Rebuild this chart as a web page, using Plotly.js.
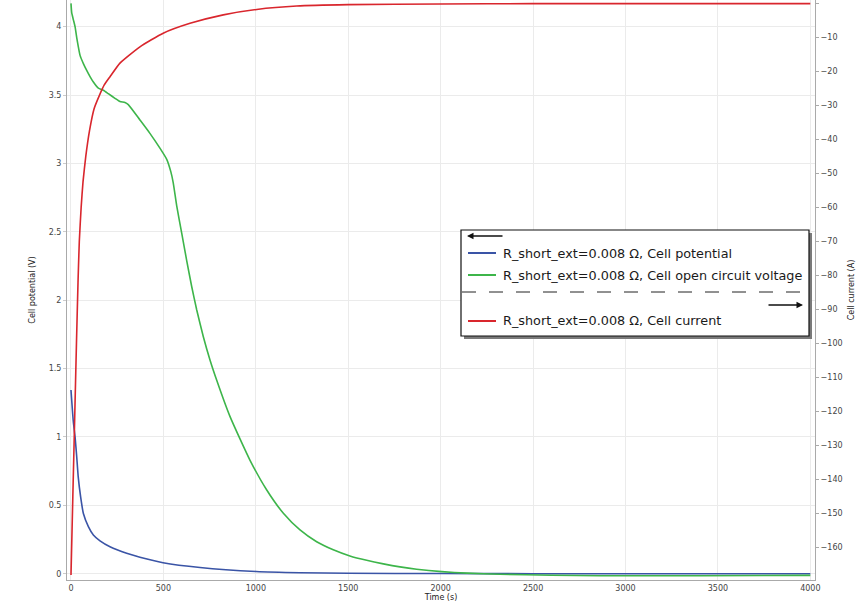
<!DOCTYPE html>
<html>
<head>
<meta charset="utf-8">
<script src="https://cdn.plot.ly/plotly-3.0.1.min.js"></script>
<style>html,body{margin:0;padding:0;background:#fff;}#chart{width:868px;height:609px;}</style>
</head>
<body>
<div id="chart"></div>
<script>
// Cell potential (V)
const tPot = [0, 12, 22, 31, 39, 52, 67, 94, 121, 157, 211, 301, 373, 498, 698, 1001, 1239, 1500, 2000, 2500, 3000, 3500, 4000];
const vPot = [1.343, 1.12, 1.0, 0.855, 0.71, 0.563, 0.44, 0.344, 0.283, 0.24, 0.197, 0.149, 0.12, 0.08, 0.045, 0.016, 0.007, 0.003, 0.001, 0.0, 0.0, 0.0, 0.0];

// Cell open circuit voltage (V)
const tOcv = [0, 4, 13, 22, 31, 40, 49, 67, 85, 103, 121, 148, 175, 202, 238, 265, 292, 310, 373, 427, 482, 518, 540, 553, 572, 599, 626, 653, 680, 716, 752, 788, 860, 968, 1059, 1149, 1239, 1329, 1419, 1509, 1600, 1690, 1780, 1870, 2006, 2141, 2321, 2600, 2862, 3403, 4000];
const vOcv = [4.17, 4.10, 4.05, 4.0, 3.92, 3.85, 3.79, 3.73, 3.68, 3.635, 3.595, 3.55, 3.535, 3.51, 3.476, 3.452, 3.446, 3.43, 3.318, 3.22, 3.11, 3.03, 2.94, 2.86, 2.69, 2.49, 2.29, 2.10, 1.93, 1.733, 1.563, 1.416, 1.15, 0.831, 0.612, 0.442, 0.32, 0.234, 0.175, 0.13, 0.098, 0.072, 0.05, 0.033, 0.015, 0.004, -0.004, -0.011, -0.015, -0.015, -0.012];

// Cell current (A)
const tCur = [0, 10, 20, 30, 38, 45, 55, 65, 80, 100, 125, 152, 180, 211, 265, 373, 499, 644, 824, 1005, 1221, 1500, 2000, 2500, 3000, 4000];
const iCur = [-168.1, -145, -122, -99, -82, -70, -60, -52.5, -45, -37.5, -31, -27.3, -24, -21.6, -17.6, -12.8, -8.8, -5.9, -3.4, -1.8, -0.8, -0.4, -0.2, -0.1, -0.1, -0.1];

const seriesNames = ["R_short_ext=0.008 \u03A9, Cell potential", "R_short_ext=0.008 \u03A9, Cell open circuit voltage", "R_short_ext=0.008 \u03A9, Cell current"];
const colors = ["#3a54a6", "#3db54a", "#d9262d"];

const W = 868, H = 609, ML = 67, MR = 53, MT = 0, MB = 29;
const PW = W - ML - MR, PH = H - MT - MB;
const px = X => (X - ML) / PW;
const py = Y => (H - MB - Y) / PH;

const lineStyle = c => ({color: c, width: 1.6, shape: 'spline', smoothing: 0.5});
const traces = [
  {x: tPot, y: vPot, name: seriesNames[0], type: 'scatter', mode: 'lines', line: lineStyle(colors[0]), yaxis: 'y', showlegend: false},
  {x: tOcv, y: vOcv, name: seriesNames[1], type: 'scatter', mode: 'lines', line: lineStyle(colors[1]), yaxis: 'y', showlegend: false},
  {x: tCur, y: iCur, name: seriesNames[2], type: 'scatter', mode: 'lines', line: lineStyle(colors[2]), yaxis: 'y2', showlegend: false}
];

const tickFont = {family: 'DejaVu Sans', size: 8, color: '#444'};
const titleFont = {family: 'DejaVu Sans', size: 8, color: '#222'};

const shapes = [
  {type: 'rect', xref: 'paper', yref: 'paper', x0: px(464), x1: px(812), y0: py(339), y1: py(233), fillcolor: '#7a7a7a', line: {width: 0}, layer: 'above'},
  {type: 'rect', xref: 'paper', yref: 'paper', x0: px(461), x1: px(809), y0: py(336), y1: py(230), fillcolor: '#ffffff', line: {color: '#111', width: 1.2}, layer: 'above'},
  {type: 'line', xref: 'paper', yref: 'paper', x0: px(462), x1: px(808), y0: py(292), y1: py(292), line: {color: '#222', width: 1, dash: '14px,13px'}, layer: 'above'},
  {type: 'line', xref: 'paper', yref: 'paper', x0: px(468), x1: px(496), y0: py(253), y1: py(253), line: {color: colors[0], width: 2}, layer: 'above'},
  {type: 'line', xref: 'paper', yref: 'paper', x0: px(468), x1: px(496), y0: py(275), y1: py(275), line: {color: colors[1], width: 2}, layer: 'above'},
  {type: 'line', xref: 'paper', yref: 'paper', x0: px(468), x1: px(496), y0: py(321), y1: py(321), line: {color: colors[2], width: 2}, layer: 'above'}
];

const legFont = {family: 'DejaVu Sans', size: 12.8, color: '#1a1a1a'};
const annotations = [
  {xref: 'paper', yref: 'paper', x: px(501), y: py(253), text: seriesNames[0], showarrow: false, xanchor: 'left', yanchor: 'middle', font: legFont},
  {xref: 'paper', yref: 'paper', x: px(501), y: py(275), text: seriesNames[1], showarrow: false, xanchor: 'left', yanchor: 'middle', font: legFont},
  {xref: 'paper', yref: 'paper', x: px(501), y: py(321), text: seriesNames[2], showarrow: false, xanchor: 'left', yanchor: 'middle', font: legFont},
  {xref: 'paper', yref: 'paper', x: px(467), y: py(236), ax: 37, ay: 0, text: '', showarrow: true, arrowhead: 2, arrowsize: 1, arrowwidth: 1.3, arrowcolor: '#111'},
  {xref: 'paper', yref: 'paper', x: px(803), y: py(305), ax: -36, ay: 0, text: '', showarrow: true, arrowhead: 2, arrowsize: 1, arrowwidth: 1.3, arrowcolor: '#111'}
];

const layout = {
  width: W, height: H,
  margin: {l: ML, r: MR, t: MT, b: MB, pad: 0},
  paper_bgcolor: '#fff', plot_bgcolor: '#fff',
  showlegend: false,
  xaxis: {
    range: [-21.6, 4025.3], tickvals: [0, 500, 1000, 1500, 2000, 2500, 3000, 3500, 4000],
    showgrid: true, gridcolor: '#ebebeb', gridwidth: 1, zeroline: false,
    showline: true, linecolor: '#aaa', linewidth: 1, ticks: '', tickfont: tickFont,
    title: {text: 'Time (s)', font: titleFont, standoff: 2}
  },
  yaxis: {
    range: [-0.0461, 4.195], tickvals: [0, 0.5, 1, 1.5, 2, 2.5, 3, 3.5, 4],
    showgrid: true, gridcolor: '#ebebeb', gridwidth: 1, zeroline: false,
    showline: true, linecolor: '#aaa', linewidth: 1, ticks: 'outside', ticklen: 3, tickcolor: '#ccc', tickfont: tickFont,
    title: {text: 'Cell potential (V)', font: titleFont, standoff: 11}
  },
  yaxis2: {
    overlaying: 'y', side: 'right', range: [-169.6, 0.97],
    tickvals: [0, -10, -20, -30, -40, -50, -60, -70, -80, -90, -100, -110, -120, -130, -140, -150, -160],
    showgrid: false, zeroline: false,
    showline: true, linecolor: '#aaa', linewidth: 1, ticks: 'outside', ticklen: 3, tickcolor: '#aaa', tickfont: tickFont,
    title: {text: 'Cell current (A)', font: titleFont, standoff: 6}
  },
  shapes: shapes,
  annotations: annotations
};

Plotly.newPlot('chart', traces, layout, {staticPlot: true, displayModeBar: false});
</script>
</body>
</html>
